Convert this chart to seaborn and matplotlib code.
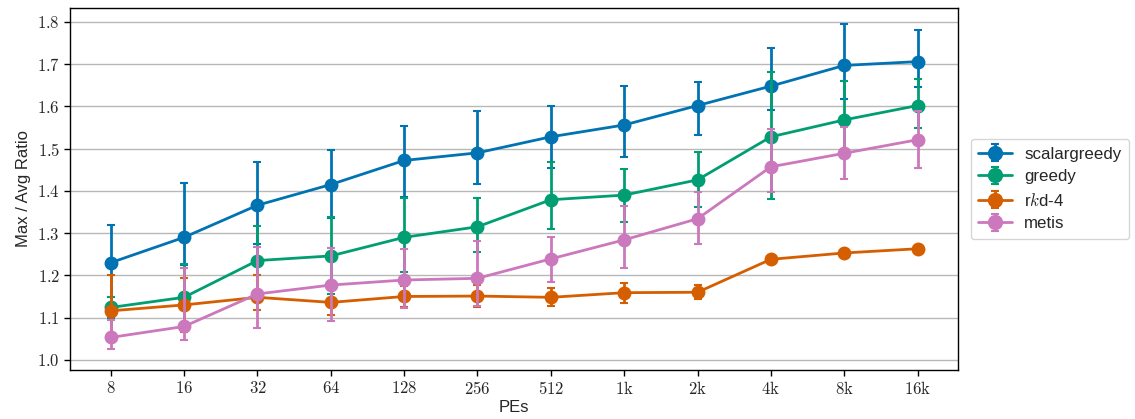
import numpy as np
import pandas as pd
import matplotlib
matplotlib.use("Agg")
import matplotlib.pyplot as plt
import seaborn as sns
from matplotlib.ticker import FuncFormatter

# ---- data ----
pe_labels = ["8", "16", "32", "64", "128", "256", "512", "1k", "2k", "4k", "8k", "16k"]
methods = ["scalargreedy", "greedy", "r$k$d-4", "metis"]

scalargreedy_mean = [1.230, 1.290, 1.366, 1.415, 1.472, 1.490, 1.528, 1.556, 1.602, 1.648, 1.697, 1.706]
scalargreedy_low = [1.148, 1.225, 1.275, 1.335, 1.385, 1.416, 1.455, 1.480, 1.533, 1.592, 1.618, 1.645]
scalargreedy_high = [1.320, 1.418, 1.468, 1.497, 1.554, 1.590, 1.600, 1.648, 1.657, 1.738, 1.795, 1.780]

greedy_mean = [1.124, 1.148, 1.235, 1.246, 1.290, 1.315, 1.379, 1.390, 1.426, 1.528, 1.568, 1.602]
greedy_low = [1.100, 1.070, 1.155, 1.155, 1.209, 1.256, 1.309, 1.327, 1.362, 1.380, 1.478, 1.548]
greedy_high = [1.148, 1.227, 1.316, 1.338, 1.382, 1.382, 1.469, 1.451, 1.493, 1.682, 1.661, 1.664]

rkd_mean = [1.116, 1.130, 1.148, 1.136, 1.150, 1.151, 1.148, 1.159, 1.160, 1.238, 1.253, 1.263]
rkd_low = [1.060, 1.067, 1.118, 1.105, 1.126, 1.126, 1.128, 1.134, 1.145, 1.236, 1.251, 1.261]
rkd_high = [1.200, 1.193, 1.201, 1.167, 1.175, 1.176, 1.170, 1.181, 1.177, 1.240, 1.255, 1.265]

metis_mean = [1.053, 1.079, 1.156, 1.177, 1.189, 1.193, 1.239, 1.284, 1.334, 1.457, 1.489, 1.521]
metis_low = [1.025, 1.047, 1.075, 1.091, 1.123, 1.127, 1.184, 1.218, 1.274, 1.398, 1.428, 1.454]
metis_high = [1.095, 1.217, 1.268, 1.264, 1.263, 1.282, 1.290, 1.364, 1.397, 1.547, 1.552, 1.588]

means = [scalargreedy_mean, greedy_mean, rkd_mean, metis_mean]
lows = [scalargreedy_low, greedy_low, rkd_low, metis_low]
highs = [scalargreedy_high, greedy_high, rkd_high, metis_high]

pal = sns.color_palette("colorblind")
colors = [pal[0], pal[2], pal[3], pal[4]]

# ---- style ----
sns.set_theme(style="ticks")
plt.rcParams["font.family"] = ["Liberation Sans", "DejaVu Sans"]
plt.rcParams["mathtext.fontset"] = "cm"

rows = []
for m, ys in zip(methods, means):
    for i, v in enumerate(ys):
        rows.append({"pos": i, "ratio": v, "method": m})
df = pd.DataFrame(rows)

fig = plt.figure(figsize=(11.35, 4.19), dpi=100)
ax = fig.add_axes([0.062, 0.117, 0.782, 0.864])

x = np.arange(len(pe_labels))
handles = []
for k, (m, c) in enumerate(zip(methods, colors)):
    sub = df[df["method"] == m]
    sns.lineplot(data=sub, x="pos", y="ratio", color=c, marker="o", markersize=10,
                 markeredgewidth=0, linewidth=2, ax=ax, zorder=3 + k, legend=False)
    line = ax.lines[-1]
    mu = np.array(means[k])
    err = np.vstack([mu - np.array(lows[k]), np.array(highs[k]) - mu])
    eb = ax.errorbar(x, mu, yerr=err, fmt="none", ecolor=c, elinewidth=2,
                     capsize=3, capthick=1.5, zorder=3 + k)
    handles.append((eb, line))

ax.set_xlim(-0.55, 11.55)
ax.set_ylim(0.976, 1.833)
ax.set_xticks(x)
ax.set_xticklabels([r"$%s$" % (l.replace("k", r"\mathrm{k}")) for l in pe_labels], fontsize=12)
ax.set_yticks(np.arange(1.0, 1.81, 0.1))
ax.yaxis.set_major_formatter(FuncFormatter(lambda v, p: r"$%.1f$" % v))
ax.tick_params(axis="y", labelsize=12)
ax.yaxis.grid(True, color="#b8b8b8", linewidth=1)
ax.set_axisbelow(True)
for s in ax.spines.values():
    s.set_color("black")
    s.set_linewidth(1)
ax.tick_params(direction="out", length=4, width=1, color="black")

ax.set_xlabel("PEs", fontsize=12, labelpad=2)
ax.set_ylabel("Max / Avg Ratio", fontsize=12)

ax.legend(handles, methods, loc="center left", bbox_to_anchor=(1.005, 0.5),
          fontsize=12.2, frameon=True, handlelength=2.0, borderpad=0.45,
          labelspacing=0.45, handletextpad=0.7, markerscale=1.1)

fig.savefig("out.png", dpi=100)
